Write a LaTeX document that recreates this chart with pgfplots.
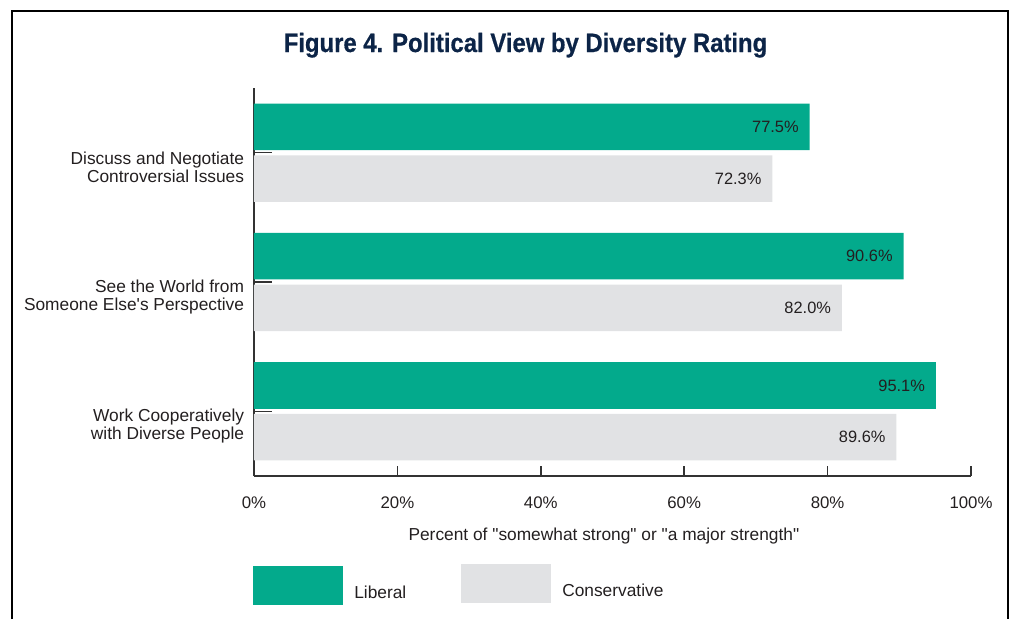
\documentclass[border=0pt]{standalone}
\usepackage{fontspec}
\setmainfont{Liberation Sans}
\newfontfamily\titlefont[FakeStretch=0.9,FakeBold=0.6]{Liberation Sans}
\usepackage{pgfplots}
\pgfplotsset{compat=1.18}
\definecolor{lib}{RGB}{3,170,140}
\definecolor{con}{RGB}{225,226,228}
\definecolor{navy}{RGB}{12,36,71}
\definecolor{txt}{RGB}{35,31,32}
\definecolor{axc}{RGB}{50,50,50}
\begin{document}
\begin{tikzpicture}
\begin{scope}[x=0.75pt,y=-0.75pt]
\draw[line width=1.5pt] (11.5,619) -- (11.5,11) -- (1007.5,11) -- (1007.5,619);
\node[anchor=base, font=\titlefont\bfseries\fontsize{19.9}{24}\selectfont, text=navy, inner sep=0] at (525.5,52) {Figure 4. Political View by Diversity Rating};
\fill[lib] (253,566) rectangle (343,605);
\fill[con] (461,564) rectangle (551,603);
\node[anchor=base west, inner sep=0, font=\fontsize{13}{15}\selectfont, text=txt] at (354,598) {Liberal};
\node[anchor=base west, inner sep=0, font=\fontsize{13}{15}\selectfont, text=txt] at (562,596) {Conservative};
\end{scope}
\begin{axis}[
  at={(190.5pt,-357pt)}, anchor=south west,
  scale only axis, width=537.75pt, height=291pt,
  xmin=0, xmax=100, ymin=-0.5, ymax=2.5,
  xbar, bar width=0.36, bar shift=0pt,
  axis lines*=left,
  axis line style={-, line width=1.1pt, draw=axc},
  tick align=inside,
  xtick={0,20,40,60,80,100},
  xticklabel={\pgfmathprintnumber{\tick}\%},
  ytick={0,1,2},
  yticklabels={{Work Cooperatively\\with Diverse People},{See the World from\hspace{0.35em}\\Someone Else\textquotesingle s Perspective},{Discuss and Negotiate\\Controversial Issues}},
  xtick style={line width=1.1pt, draw=axc, /pgfplots/major tick length=7.5pt},
  ytick style={line width=1.1pt, draw=axc, /pgfplots/major tick length=13.5pt},
  xtick pos=bottom, ytick pos=left,
  /pgf/number format/assume math mode=true,
  ticklabel style={text=txt},
  xticklabel style={font=\fontsize{12.6}{13.5}\selectfont, anchor=base},
  xticklabel shift=24pt,
  yticklabel style={font=\fontsize{13}{13.5}\selectfont, align=right, xshift=-3.9pt, yshift=-11.25pt},
  xlabel={Percent of \textquotedbl somewhat strong\textquotedbl{} or \textquotedbl a major strength\textquotedbl},
  xlabel style={at={(rel axis cs:0.488,0)}, anchor=base, yshift=-48pt, font=\fontsize{13}{15}\selectfont, text=txt},
  point meta=x,
  nodes near coords={\pgfmathprintnumber[fixed,fixed zerofill,precision=1]{\pgfplotspointmeta}\%},
  every node near coord/.append style={anchor=east, xshift=-4.7pt, font=\fontsize{12.3}{13}\selectfont, text=txt},
]
\addplot[fill=lib, draw=none] coordinates {(77.5,2.2) (90.6,1.2) (95.1,0.2)};
\addplot[fill=con, draw=none] coordinates {(72.3,1.8) (82.0,0.8) (89.6,-0.2)};
\end{axis}
\pgfresetboundingbox
\path[use as bounding box] (0,0) rectangle (757.5pt,-464.25pt);
\end{tikzpicture}
\end{document}
